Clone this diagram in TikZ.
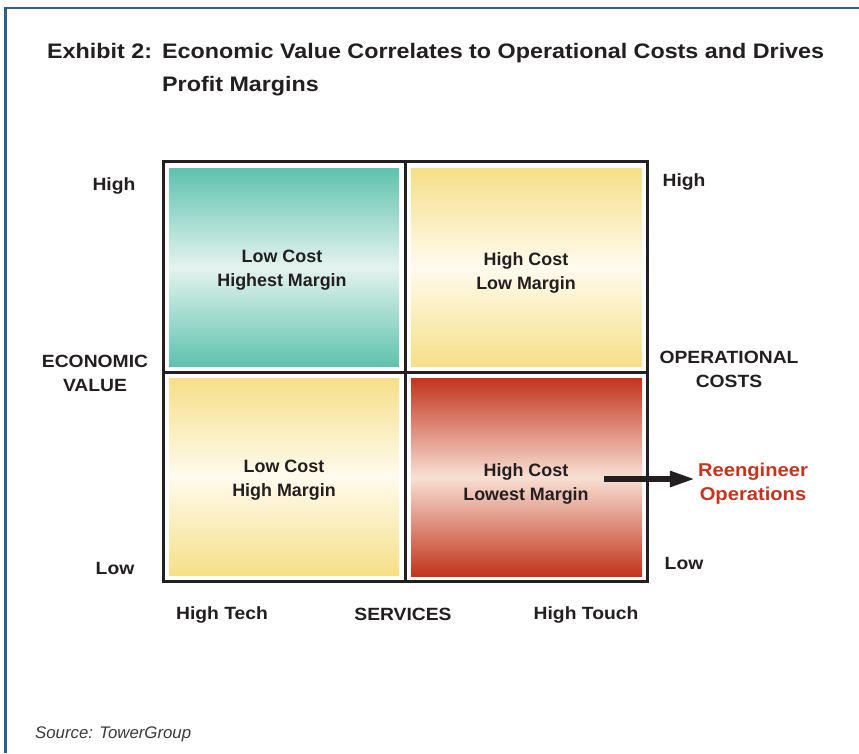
\documentclass[tikz,border=0pt]{standalone}
\usepackage{fontspec}
\setmainfont{Liberation Sans}
\newfontfamily\widesans[FakeStretch=1.09]{Liberation Sans}
\newfontfamily\titlesans[FakeStretch=1.11]{Liberation Sans}
\usetikzlibrary{arrows.meta}

\definecolor{ink}{HTML}{231F20}
\definecolor{rule}{HTML}{2F5E8C}
\definecolor{alert}{HTML}{C3331E}
\definecolor{srcgray}{HTML}{3A3A3A}
\definecolor{tealedge}{HTML}{5EC2AE}
\definecolor{tealmid}{HTML}{E4F3EE}
\definecolor{sandedge}{HTML}{F6DF88}
\definecolor{sandmid}{HTML}{FFFBEE}
\definecolor{rustedge}{HTML}{C2341C}
\definecolor{rustmid}{HTML}{F8E0D4}

\begin{document}
\begin{tikzpicture}[x=1pt,y=-1pt,
  titletext/.style={font=\titlesans\fontsize{21}{33}\selectfont\bfseries, text=ink, inner sep=0pt, anchor=base west},
  axislabel/.style={font=\widesans\fontsize{17.7}{24}\selectfont\bfseries, text=ink, align=center, inner sep=0pt},
  quadtext/.style={font=\fontsize{17.9}{24}\selectfont\bfseries, text=ink, align=center, inner sep=0pt},
  quadbox/.style={rectangle, draw=none, inner sep=0pt, anchor=north west, minimum height=198pt},
  tealfill/.style={top color=tealedge, bottom color=tealedge, middle color=tealmid},
  sandfill/.style={top color=sandedge, bottom color=sandedge, middle color=sandmid},
  rustfill/.style={top color=rustedge, bottom color=rustedge, middle color=rustmid},
  gridline/.style={draw=ink, line width=3pt},
  pointer/.style={draw=ink, line width=5.6pt, -{Triangle[length=25pt,width=15pt]}},
]
\useasboundingbox (0,0) rectangle (859,753);
\fill[white] (0,0) rectangle (859,753);

% page frame: rule on top and left
\draw[rule, line width=2.7pt] (5.3,753) -- (5.3,8) -- (859,8);

% heading
\node[titletext] (exhibit) at (47,58) {Exhibit 2:};
\node[titletext] (head1) at (162,58) {Economic Value Correlates to Operational Costs and Drives};
\node[titletext] (head2) at (162,91) {Profit Margins};

% shaded quadrants
\node[quadbox, tealfill, minimum width=230pt] (qa) at (169,168) {};
\node[quadbox, sandfill, minimum width=231pt] (qb) at (411,168) {};
\node[quadbox, sandfill, minimum width=230pt, minimum height=197pt] (qc) at (169,378) {};
\node[quadbox, rustfill, minimum width=231pt] (qd) at (411,378) {};

% 2x2 grid
\draw[gridline] (163,161) rectangle (647,581);
\draw[gridline] (405,161) -- (405,581);
\draw[gridline] (163,372) -- (647,372);

% quadrant captions
\node[quadtext] (ta) at (282,270.2) {Low Cost\\Highest Margin};
\node[quadtext] (tb) at (526,272.5) {High Cost\\Low Margin};
\node[quadtext] (tc) at (284,480.5) {Low Cost\\High Margin};
\node[quadtext] (td) at (526,483.5) {High Cost\\Lowest Margin};

% left axis
\node[axislabel, anchor=base] (lhigh) at (114,190) {High};
\node[axislabel] (econ) at (95,373.6) {ECONOMIC\\VALUE};
\node[axislabel, anchor=base] (llow) at (115,574) {Low};

% right axis
\node[axislabel, anchor=base] (rhigh) at (684,186) {High};
\node[axislabel] (opcost) at (729,369.6) {OPERATIONAL\\COSTS};
\node[axislabel, anchor=base] (rlow) at (684,569) {Low};

% bottom axis
\node[axislabel, anchor=base] (htech) at (222,619) {High Tech};
\node[axislabel, anchor=base] (serv) at (403,620) {SERVICES};
\node[axislabel, anchor=base] (htouch) at (586,619) {High Touch};

% call to action
\node[axislabel, font=\widesans\fontsize{18.5}{23.3}\selectfont\bfseries, text=alert] (reeng) at (753,483.7) {Reengineer\\Operations};
\draw[pointer, shorten >=3pt] ([xshift=15pt,yshift=4.5pt]td.east) -- ([yshift=4.5pt]td.east -| reeng.west);

% source line
\node[font=\fontsize{16.8}{20}\selectfont\itshape, text=srcgray, inner sep=0pt, anchor=base west] (src) at (35,738) {Source: TowerGroup};
\end{tikzpicture}
\end{document}
